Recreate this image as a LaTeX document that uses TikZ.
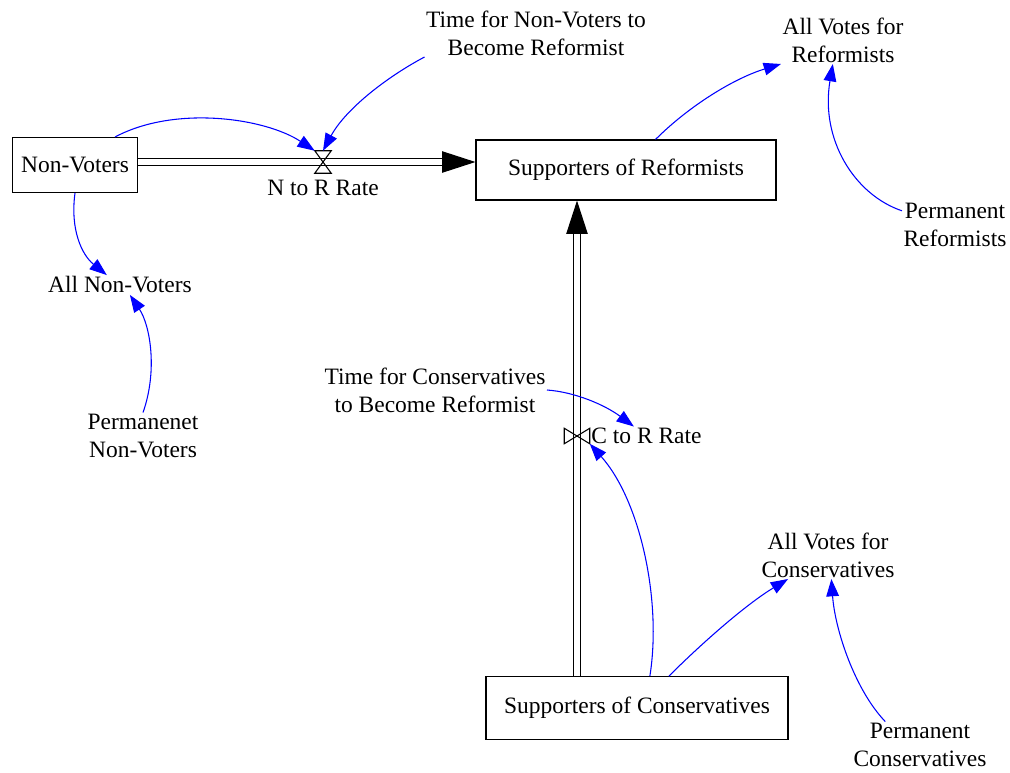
\documentclass[tikz,border=0pt]{standalone}
\usepackage{fontspec}
\setmainfont{Liberation Serif}
\usetikzlibrary{arrows.meta, positioning}

\tikzset{
  lbl/.style={align=center, inner sep=1pt, font=\fontsize{17.6}{21}\selectfont},
  stock/.style={lbl, draw, line width=0.8pt},
  valve/.style={inner sep=0pt},
  link/.style={draw=blue, line width=0.8pt, -{Triangle[length=13pt,width=9.5pt]}},
  pipe/.style={double, double distance=4pt, line width=0.8pt, -{Triangle[length=25pt,width=16pt]}}
}

\begin{document}
\begin{tikzpicture}[x=0.75pt,y=0.75pt,yscale=-1,xscale=1]
    \useasboundingbox (0,0) rectangle (1010,772);

    %Stocks
    \node [stock, minimum width=93.75pt, minimum height=41.25pt] (nv) at (75,165) {Non-Voters};
    \node [stock, minimum width=225pt, minimum height=45pt] (sr) at (626,170) {Supporters of Reformists};
    \node [stock, minimum width=226.5pt, minimum height=47pt] (sc) at (637,708) {Supporters of Conservatives};

    %Valves
    \node [valve, minimum width=12pt, minimum height=16.5pt] (nrv) at (323,162) {};
    \node [valve, minimum width=18.75pt, minimum height=11.25pt] (crv) at (577,436) {};

    %Flows
    \draw [pipe] (nrv -| nv.east) -- (nrv -| sr.west);
    \draw [pipe] (crv |- sc.north) -- (crv |- sr.south);
    \draw [line width=0.8pt] (nrv.north west) -- (nrv.north east) -- (nrv.south west) -- (nrv.south east) -- cycle;
    \draw [line width=0.8pt] (crv.north west) -- (crv.south west) -- (crv.north east) -- (crv.south east) -- cycle;

    % Text Node
    \node [lbl, below=4pt of nrv] (nrr) {N to R Rate};
    % Text Node
    \node [lbl, right=0pt of crv] (crr) {C to R Rate};
    % Text Node
    \node [lbl] (tnr) at (536,33) {Time for Non-Voters to\\Become Reformist};
    % Text Node
    \node [lbl] (avr) at (843,40) {All Votes for\\Reformists};
    % Text Node
    \node [lbl] (pr) at (955,225) {Permanent\\Reformists};
    % Text Node
    \node [lbl] (anv) at (120,285) {All Non-Voters};
    % Text Node
    \node [lbl] (pnv) at (143,436) {Permanenet\\Non-Voters};
    % Text Node
    \node [lbl] (tcr) at (435,390) {Time for Conservatives\\to Become Reformist};
    % Text Node
    \node [lbl] (avc) at (828,555) {All Votes for\\Conservatives};
    % Text Node
    \node [lbl] (pc) at (920,745) {Permanent\\Conservatives};

    %Links
    \draw [link] (nv.35) .. controls (175,105) and (265,118) .. (nrv.north west);
    \draw [link] (tnr.south west) .. controls (385,78) and (345,110) .. (nrv.north);
    \draw [link] (sr.46) .. controls (690,105) and (735,78) .. (avr.south west);
    \draw [link] (pr.165) .. controls (855,195) and (820,140) .. (avr.247);
    \draw [link] (nv.south) .. controls (70,230) and (82,255) .. (anv.143);
    \draw [link] (pnv.north) .. controls (158,370) and (150,325) .. (anv.-45);
    \draw [link] (tcr.east) .. controls (575,392) and (605,405) .. (crr.143);
    \draw [link] (sc.68) .. controls (662,600) and (640,500) .. (crv.south east);
    \draw [link] (sc.45) .. controls (700,645) and (745,605) .. (avc.211);
    \draw [link] (pc.146) .. controls (855,690) and (835,630) .. (avc.-82);
\end{tikzpicture}
\end{document}
